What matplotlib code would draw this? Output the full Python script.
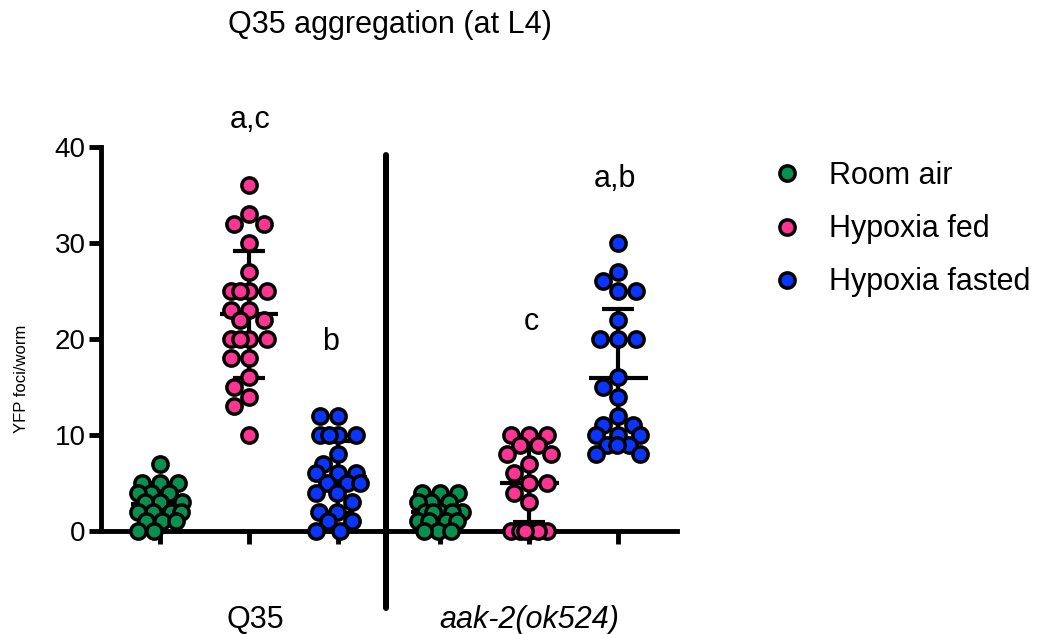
import numpy as np
import matplotlib.pyplot as plt
from matplotlib.lines import Line2D

plt.rcParams['font.family'] = ['Liberation Sans', 'DejaVu Sans']

# data (YFP foci per worm)
q35_room_air = [7, 5, 5, 5, 4, 4, 4, 3, 3, 3, 2, 2, 2, 2, 1, 1, 1, 0, 0]
q35_hyp_fed = [36, 33, 32, 32, 30, 27, 25, 25, 25, 25, 23, 23, 22, 22,
               20, 20, 20, 20, 18, 18, 16, 15, 14, 13, 10]
q35_hyp_fasted = [12, 12, 10, 10, 10, 10, 8, 7, 6, 6, 6, 5, 5, 5, 4, 4,
                  3, 2, 2, 1, 1, 0, 0]
aak_room_air = [4, 4, 4, 3, 3, 3, 2, 2, 2, 2, 2, 1, 1, 1, 1, 0, 0, 0]
aak_hyp_fed = [10, 10, 10, 9, 9, 8, 8, 7, 6, 5, 5, 4, 3, 0, 0, 0, 0, 0, 0]
aak_hyp_fasted = [30, 27, 26, 25, 25, 22, 20, 20, 20, 16, 15, 14, 12, 11,
                  11, 10, 10, 10, 9, 9, 9, 8, 8]

conditions = ['Room air', 'Hypoxia fed', 'Hypoxia fasted']
colors = ['#07904f', '#ff3593', '#0a35ff']
strains = ['Q35', 'aak-2(ok524)']
letters = ['', 'a,c', 'b', '', 'c', 'a,b']

series = [q35_room_air, q35_hyp_fed, q35_hyp_fasted,
          aak_room_air, aak_hyp_fed, aak_hyp_fasted]
xpos = [0, 1, 2, 3.15, 4.15, 5.15]

XU, YU = 89.0, 9.6   # pixels per data unit


def swarm(vals, d=17.5, maxw=22):
    # simple deterministic beeswarm, offsets returned in data units
    cands = sorted(range(-maxw, maxw + 1), key=lambda c: (abs(c), c))
    placed, offs = [], []
    for v in sorted(vals, reverse=True):
        y = v * YU
        best, bestd = 0, -1
        for c in cands:
            md = min([np.hypot(c - px, y - py) for px, py in placed] or [1e9])
            if md >= d:
                best = c
                break
            if md > bestd:
                bestd, best = md, c
        placed.append((best, y))
        offs.append(best / XU)
    return sorted(vals, reverse=True), offs


fig = plt.figure(figsize=(10.38, 6.34), dpi=100)
ax = fig.add_axes([0.0973, 0.1625, 0.555, 0.6057])

for i, vals in enumerate(series):
    x0 = xpos[i]
    c = colors[i % 3]
    m = np.mean(vals)
    sd = np.std(vals, ddof=1)
    ax.hlines(m, x0 - 0.33, x0 + 0.33, color='black', lw=3, zorder=2)
    ax.vlines(x0, m - sd, m + sd, color='black', lw=3, zorder=2)
    ax.hlines([m - sd, m + sd], x0 - 0.18, x0 + 0.18, color='black', lw=3, zorder=2)
    v, o = swarm(vals)
    ax.plot(x0 + np.array(o), v, 'o', ms=11, mfc=c, mec='black', mew=2.5,
            clip_on=False, zorder=3)

# separator between strains
ax.plot([2.54, 2.54], [39.2, -8.0], color='black', lw=4.3, clip_on=False,
        solid_capstyle='round')

# significance letters
letter_pos = [(0, 0), (1.01, 42.0), (1.92, 18.85), (0, 0), (4.17, 20.9), (5.11, 35.8)]
for lab, (lx, ly) in zip(letters, letter_pos):
    if lab:
        ax.text(lx, ly, lab, ha='center', va='baseline', fontsize=22)

# strain labels under the axis
ax.text(1.07, -10.1, strains[0], ha='center', va='baseline', fontsize=22)
ax.text(4.15, -10.1, strains[1], ha='center', va='baseline', fontsize=22,
        style='italic')

ax.set_xlim(-0.663, 5.81)
ax.set_ylim(0, 40)
ax.set_yticks([0, 10, 20, 30, 40])
ax.set_xticks(xpos)
ax.set_xticklabels([])
ax.spines['top'].set_visible(False)
ax.spines['right'].set_visible(False)
for s in ['left', 'bottom']:
    ax.spines[s].set_linewidth(3.5)
ax.tick_params(axis='both', direction='out', length=9, width=3.5,
               labelsize=20, pad=2)

fig.text(22 / 1038, 1 - 379 / 634, 'YFP foci/worm', rotation=90,
         ha='center', va='center', fontsize=12)
fig.text(390 / 1038, 1 - 33 / 634, 'Q35 aggregation (at L4)', ha='center',
         va='baseline', fontsize=22)

handles = [Line2D([], [], ls='none', marker='o', ms=11, mfc=c, mec='black',
                  mew=2.5) for c in colors]
fig.legend(handles, conditions, loc='upper left',
           bbox_to_anchor=(772 / 1038, 1 - 161 / 634), frameon=False,
           fontsize=22, handlelength=1.0, handletextpad=0.85,
           labelspacing=0.76, borderpad=0, borderaxespad=0)

plt.savefig('out.png', dpi=100)
